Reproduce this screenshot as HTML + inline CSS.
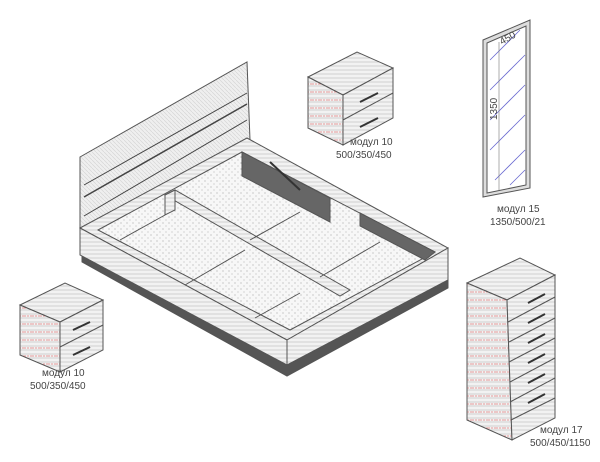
<!DOCTYPE html>
<html><head><meta charset="utf-8"><style>
html,body{margin:0;padding:0;background:#fff;}
svg{display:block}
text{font-family:"Liberation Sans",sans-serif;font-size:10px;fill:#444}
</style></head><body>
<svg width="600" height="462" viewBox="0 0 600 462">
<defs>
<pattern id="wood" width="4" height="4" patternUnits="userSpaceOnUse"><rect width="4" height="4" fill="#f2f2f2"/><path d="M0 2H4" stroke="#d0d0d0" stroke-width="1"/></pattern>
<pattern id="woodv" width="4" height="4" patternUnits="userSpaceOnUse"><rect width="4" height="4" fill="#efefef"/><path d="M0 0L4 4" stroke="#d6d6d6" stroke-width=".7"/></pattern>
<pattern id="speck" width="6" height="6" patternUnits="userSpaceOnUse"><rect width="6" height="6" fill="#f7f7f7"/><circle cx="1" cy="1" r=".6" fill="#aaa"/><circle cx="4" cy="4" r=".6" fill="#bbb"/></pattern>
<pattern id="red" width="8" height="8" patternUnits="userSpaceOnUse"><rect width="8" height="8" fill="url(#wood)"/><path d="M0 4H8" stroke="#e79a9a" stroke-width="1" stroke-dasharray="2 1"/></pattern>
</defs>
<g stroke="#555" stroke-width="1">
<!-- headboard -->
<polygon points="80,157 247,62 250,140 80,235" fill="url(#woodv)"/>
<line x1="84" y1="197" x2="247" y2="104" stroke="#444" stroke-width="1.5"/>
<line x1="84" y1="216" x2="247" y2="120" stroke="#444"/>
<line x1="84" y1="185" x2="247" y2="93" stroke="#444"/>
<!-- plinth -->
<polygon points="82,255 287,365 448,280 448,288 287,376 82,262" fill="#555"/>
<!-- frame top -->
<polygon points="80,228 247,138 448,248 287,340" fill="url(#wood)"/>
<polygon points="98,230 242,152 435,252 290,330" fill="url(#speck)"/>
<polygon points="242,152 330,198 330,222 242,176" fill="#666"/>
<polygon points="360,213 435,252 425,260 360,226" fill="#666"/>
<line x1="270" y1="162" x2="300" y2="190" stroke="#333" stroke-width="2"/>
<!-- center beam -->
<polygon points="165,195 175,190 350,290 340,296" fill="url(#wood)"/>
<polygon points="165,195 175,190 175,210 165,215" fill="url(#wood)"/>
<line x1="185" y1="285" x2="245" y2="250" /><line x1="255" y1="318" x2="300" y2="293"/>
<line x1="250" y1="240" x2="300" y2="212"/><line x1="320" y1="277" x2="380" y2="242"/>
<line x1="120" y1="240" x2="165" y2="215"/>
<!-- front faces -->
<polygon points="80,228 287,340 287,365 80,255" fill="url(#wood)"/>
<polygon points="287,340 448,248 448,280 287,365" fill="url(#wood)"/>
<!-- mirror -->
<polygon points="483,40 530,20 530,188 483,197" fill="#ddd"/>
<polygon points="487,43 526,26 526,185 487,193" fill="#fff"/>
<g stroke="#6a6ad0" stroke-width=".8">
<line x1="490" y1="60" x2="520" y2="30"/><line x1="490" y1="90" x2="525" y2="55"/><line x1="490" y1="120" x2="525" y2="85"/><line x1="490" y1="150" x2="525" y2="115"/><line x1="495" y1="180" x2="525" y2="150"/><line x1="510" y1="185" x2="525" y2="170"/>
</g>
<line x1="499" y1="42" x2="499" y2="190" stroke="#777" stroke-width=".6"/>
<!-- top nightstand -->
<polygon points="308,77 357,52 393,68 343,95" fill="url(#wood)"/>
<polygon points="308,77 343,95 343,145 308,128" fill="url(#red)"/>
<polygon points="343,95 393,68 393,118 343,145" fill="url(#wood)"/>
<line x1="343" y1="120" x2="393" y2="93"/>
<line x1="360" y1="102" x2="378" y2="93" stroke="#333" stroke-width="2"/><line x1="360" y1="127" x2="378" y2="118" stroke="#333" stroke-width="2"/>
<!-- left nightstand -->
<polygon points="20,305 65,283 103,300 60,322" fill="url(#wood)"/>
<polygon points="20,305 60,322 60,372 20,355" fill="url(#red)"/>
<polygon points="60,322 103,300 103,350 60,372" fill="url(#wood)"/>
<line x1="60" y1="347" x2="103" y2="325"/>
<line x1="73" y1="330" x2="90" y2="322" stroke="#333" stroke-width="2"/><line x1="73" y1="355" x2="90" y2="347" stroke="#333" stroke-width="2"/>
<!-- chest -->
<polygon points="467,283 520,258 555,275 507,300" fill="url(#wood)"/>
<polygon points="467,283 507,300 512,440 467,420" fill="url(#red)"/>
<polygon points="507,300 555,275 555,418 512,440" fill="url(#wood)"/>
<line x1="508" y1="322" x2="555" y2="297"/><line x1="509" y1="342" x2="555" y2="318"/><line x1="509" y1="362" x2="555" y2="338"/><line x1="510" y1="382" x2="555" y2="358"/><line x1="510" y1="402" x2="555" y2="378"/><line x1="511" y1="420" x2="555" y2="398"/>
<g stroke="#333" stroke-width="2"><line x1="528" y1="303" x2="545" y2="294"/><line x1="528" y1="323" x2="545" y2="314"/><line x1="528" y1="343" x2="545" y2="334"/><line x1="528" y1="363" x2="545" y2="354"/><line x1="528" y1="383" x2="545" y2="374"/><line x1="528" y1="403" x2="545" y2="394"/></g>
</g>
<text x="350" y="145">модул 10</text><text x="336" y="158">500/350/450</text>
<text x="497" y="212">модул 15</text><text x="490" y="225">1350/500/21</text>
<text x="42" y="376">модул 10</text><text x="30" y="389">500/350/450</text>
<text x="540" y="433">модул 17</text><text x="530" y="446">500/450/1150</text>
<text x="502" y="45" font-size="7" transform="rotate(-30 502 45)">450</text>
<text x="497" y="120" font-size="7" transform="rotate(-90 497 120)">1350</text>
</svg>
</body></html>
